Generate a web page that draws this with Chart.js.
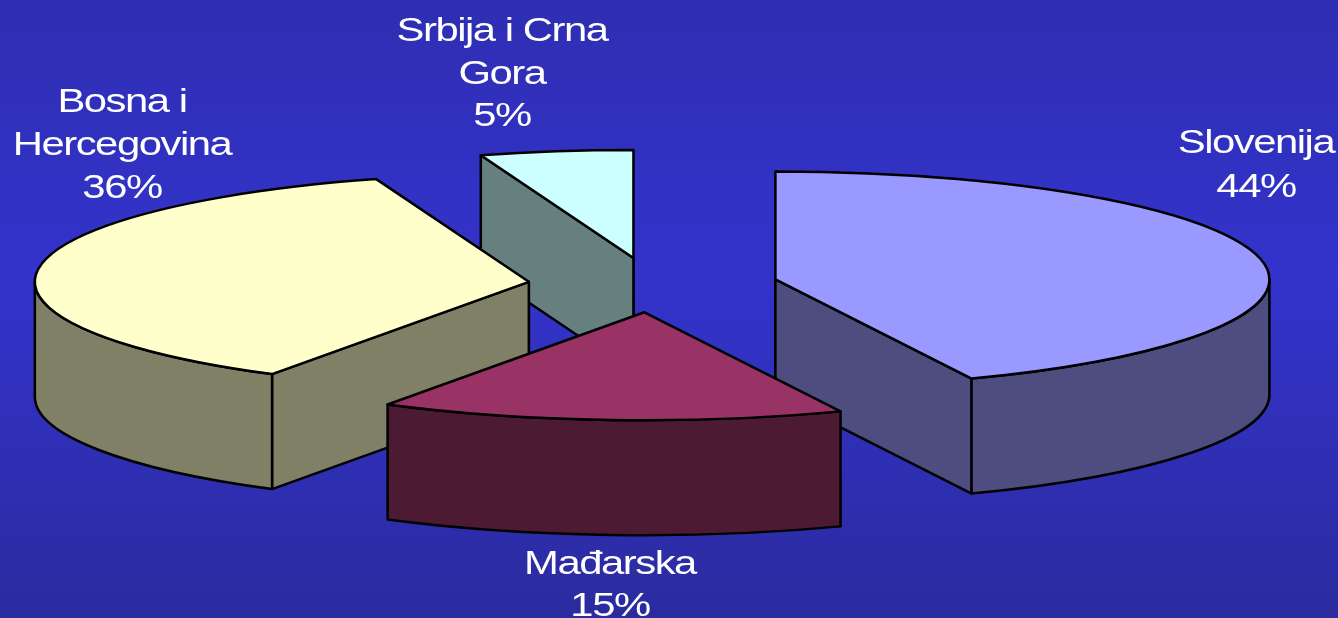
<!DOCTYPE html>
<html>
<head>
<meta charset="utf-8">
<title>Pie</title>
<style>html,body{margin:0;padding:0;background:#3333cc;overflow:hidden}canvas{display:block}</style>
<script src="https://cdn.jsdelivr.net/npm/chart.js@4"></script>
</head>
<body>
<canvas id="c" width="1338" height="618"></canvas>
<script>
const categories = ["Slovenija", "Mađarska", "Bosna i Hercegovina", "Srbija i Crna Gora"];
const values = [43.5, 15.2, 36.3, 5];
const topColours = ["#9999ff", "#993366", "#ffffcc", "#ccffff"];
const wallColours = ["#4d4d80", "#4d1a33", "#808066", "#668080"];
const labelLines = [["Slovenija"], ["Mađarska"], ["Bosna i", "Hercegovina"], ["Srbija i Crna", "Gora"]];
const labelCentreX = [1256, 610, 122, 502];
const labelFirstBaseline = [153, 574, 112, 41];
const labelLineGap = [44, 42, 43, 42.5];
const drawOrder = [3, 2, 0, 1];

const RADIUS = 494, TILT = 108 / 494, DEPTH = 115, EXPLODE = 125;

const pie3d = {
  id: 'pie3d',
  beforeDraw(chart) {
    const { ctx, width, height } = chart;
    const g = ctx.createLinearGradient(0, 0, 0, height);
    g.addColorStop(0, '#2e2eb3');
    g.addColorStop(0.45, '#3333cc');
    g.addColorStop(1, '#2b2b9f');
    ctx.save();
    ctx.fillStyle = g;
    ctx.fillRect(0, 0, width, height);
    ctx.restore();
  },
  beforeDatasetsDraw(chart) {
    const { ctx } = chart;
    const arcs = chart.getDatasetMeta(0).data;
    drawOrder.forEach(i => drawSlice(ctx, arcs[i], i));
    drawLabels(ctx);
    return false;
  }
};

function drawSlice(ctx, arc, i) {
  const r = arc.outerRadius, s = arc.startAngle, e = arc.endAngle, mid = (s + e) / 2;
  const ax = arc.x + Math.cos(mid) * EXPLODE;
  const ay = arc.y + Math.sin(mid) * EXPLODE * TILT;
  const px = a => ax + Math.cos(a) * r;
  const py = a => ay + Math.sin(a) * r * TILT;

  ctx.save();
  ctx.lineWidth = 2.5;
  ctx.lineJoin = 'round';
  ctx.strokeStyle = '#000';
  ctx.fillStyle = wallColours[i];

  // vertical line under the apex, covered by whatever lies in front of it
  ctx.beginPath();
  ctx.moveTo(ax, ay);
  ctx.lineTo(ax, ay + DEPTH);
  ctx.stroke();

  const wall = a => {
    ctx.beginPath();
    ctx.moveTo(ax, ay);
    ctx.lineTo(px(a), py(a));
    ctx.lineTo(px(a), py(a) + DEPTH);
    ctx.lineTo(ax, ay + DEPTH);
    ctx.closePath();
    ctx.fill();
    ctx.stroke();
  };
  if (Math.cos(s) < -1e-6) wall(s);
  if (Math.cos(e) > 1e-6) wall(e);

  // outer rim: the part of the arc facing the viewer (screen angles 0..PI)
  const from = Math.max(s, 0), to = Math.min(e, Math.PI);
  if (to > from) {
    ctx.beginPath();
    ctx.ellipse(ax, ay, r, r * TILT, 0, from, to);
    ctx.ellipse(ax, ay + DEPTH, r, r * TILT, 0, to, from, true);
    ctx.closePath();
    ctx.fill();
    ctx.stroke();
  }
  ctx.restore();

  // top face: the library's own arc element, squashed into perspective
  ctx.save();
  ctx.translate(ax, ay);
  ctx.scale(1, TILT);
  ctx.translate(-arc.x, -arc.y);
  arc.draw(ctx);
  ctx.restore();

  // outline of the top face at a constant line width
  ctx.save();
  ctx.lineWidth = 2.5;
  ctx.lineJoin = 'round';
  ctx.strokeStyle = '#000';
  ctx.beginPath();
  ctx.moveTo(ax, ay);
  ctx.ellipse(ax, ay, r, r * TILT, 0, s, e);
  ctx.closePath();
  ctx.stroke();
  ctx.restore();
}

function drawLabels(ctx) {
  ctx.save();
  ctx.fillStyle = '#fff';
  ctx.textAlign = 'center';
  ctx.textBaseline = 'alphabetic';
  ctx.font = '34px "Liberation Sans"';
  ctx.letterSpacing = '-1.2px';
  categories.forEach((name, i) => {
    const lines = labelLines[i].concat(Math.round(values[i]) + '%');
    lines.forEach((text, n) => {
      ctx.save();
      ctx.translate(labelCentreX[i], labelFirstBaseline[i] + n * labelLineGap[i]);
      ctx.scale(1.23, 1);
      ctx.fillText(text, 0, 0);
      ctx.restore();
    });
  });
  ctx.restore();
}

new Chart(document.getElementById('c'), {
  type: 'pie',
  plugins: [pie3d],
  data: {
    labels: categories,
    datasets: [{
      data: values,
      backgroundColor: topColours,
      borderWidth: 0,
      clip: false
    }]
  },
  options: {
    responsive: false,
    animation: false,
    events: [],
    radius: RADIUS,
    layout: { padding: { left: 0, top: 0, right: 32, bottom: 48 } },
    plugins: { legend: { display: false }, tooltip: { enabled: false } }
  }
});
</script>
</body>
</html>
